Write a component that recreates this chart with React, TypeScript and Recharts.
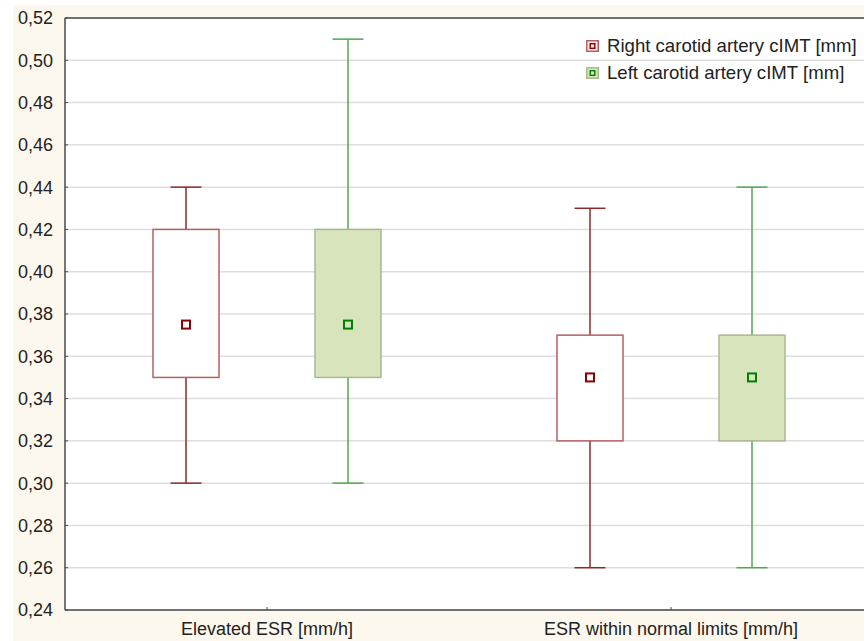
import {
  Bar,
  CartesianGrid,
  ComposedChart,
  ReferenceLine,
  XAxis,
  YAxis,
} from "recharts";

const categories = ["Elevated ESR [mm/h]", "ESR within normal limits [mm/h]"];

// right carotid artery cIMT [mm]
const rightMin = [0.3, 0.26];
const rightQ1 = [0.35, 0.32];
const rightMid = [0.375, 0.35];
const rightQ3 = [0.42, 0.37];
const rightMax = [0.44, 0.43];

// left carotid artery cIMT [mm]
const leftMin = [0.3, 0.26];
const leftQ1 = [0.35, 0.32];
const leftMid = [0.375, 0.35];
const leftQ3 = [0.42, 0.37];
const leftMax = [0.51, 0.44];

const yTicks = [
  0.24, 0.26, 0.28, 0.3, 0.32, 0.34, 0.36, 0.38, 0.4, 0.42, 0.44, 0.46, 0.48,
  0.5, 0.52,
];

const seriesNames = [
  "Right carotid artery cIMT [mm]",
  "Left carotid artery cIMT [mm]",
];

type Stats = { min: number; q1: number; mid: number; q3: number; max: number };

const data = categories.map((name, i) => ({
  name,
  right: {
    min: rightMin[i],
    q1: rightQ1[i],
    mid: rightMid[i],
    q3: rightQ3[i],
    max: rightMax[i],
  },
  left: {
    min: leftMin[i],
    q1: leftQ1[i],
    mid: leftMid[i],
    q3: leftQ3[i],
    max: leftMax[i],
  },
}));

const RED = {
  whisker: "#8e2a2a",
  boxStroke: "#b46060",
  boxFill: "#ffffff",
  iconFill: "#f7eaea",
  marker: "#8b0000",
};
const GREEN = {
  whisker: "#4fa84f",
  boxStroke: "#a9b98f",
  boxFill: "#d8e4bc",
  iconFill: "#d8e4bc",
  marker: "#008000",
};

const AXIS = "#4a4a4a";
const INK = "#222";
const FONT = "'Liberation Sans', Arial, sans-serif";

function makeBox(key: "right" | "left", c: typeof RED) {
  return (props: any) => {
    const { x, y, width, height, payload } = props;
    const s: Stats = payload[key];
    const top = Math.min(y, y + height);
    const h = Math.abs(height);
    // map a value into pixels using the bar's own [min, max] extent
    const py = (v: number) => top + ((s.max - v) / (s.max - s.min)) * h;
    const cx = x + width / 2;
    const cap = 15.5;
    return (
      <g>
        <line x1={cx} x2={cx} y1={py(s.max)} y2={py(s.q3)} stroke={c.whisker} strokeWidth={1.5} />
        <line x1={cx} x2={cx} y1={py(s.q1)} y2={py(s.min)} stroke={c.whisker} strokeWidth={1.5} />
        <line x1={cx - cap} x2={cx + cap} y1={py(s.max)} y2={py(s.max)} stroke={c.whisker} strokeWidth={1.5} />
        <line x1={cx - cap} x2={cx + cap} y1={py(s.min)} y2={py(s.min)} stroke={c.whisker} strokeWidth={1.5} />
        <rect
          x={x}
          y={py(s.q3)}
          width={width}
          height={py(s.q1) - py(s.q3)}
          fill={c.boxFill}
          stroke={c.boxStroke}
          strokeWidth={1.5}
        />
        <rect
          x={cx - 4}
          y={py(s.mid) - 4}
          width={8}
          height={8}
          fill="none"
          stroke={c.marker}
          strokeWidth={2}
        />
      </g>
    );
  };
}

function LegendIcon({ c }: { c: typeof RED }) {
  return (
    <svg width={13} height={12} style={{ display: "block" }}>
      <rect x={0.75} y={0.75} width={11.5} height={10.5} fill={c.iconFill} stroke={c.boxStroke} strokeWidth={1.5} />
      <rect x={4.2} y={3.7} width={4.6} height={4.6} fill="none" stroke={c.marker} strokeWidth={1.4} />
    </svg>
  );
}

export default function App() {
  return (
    <div
      style={{
        position: "absolute",
        left: 0,
        top: 0,
        width: 864,
        height: 641,
        overflow: "hidden",
        background: "#fff",
        fontFamily: FONT,
      }}
    >
      <div
        style={{
          position: "absolute",
          left: 13,
          top: 5,
          width: 900,
          height: 660,
          background: "#fdf8ee",
        }}
      />
      <div style={{ position: "absolute", left: 13, top: 5 }}>
        <ComposedChart
          width={860}
          height={636}
          data={data}
          margin={{ top: 13, right: 0, left: 0, bottom: 0 }}
          barSize={66}
          barGap={96}
        >
          <CartesianGrid
            vertical={false}
            stroke="#dedede"
            strokeWidth={1.5}
            fill="#ffffff"
          />
          <XAxis
            dataKey="name"
            height={31}
            interval={0}
            axisLine={{ stroke: AXIS, strokeWidth: 1.5 }}
            tickLine={{ stroke: AXIS }}
            tickSize={-3}
            tickMargin={15}
            tick={{ fill: INK, fontSize: 18 }}
          />
          <YAxis
            type="number"
            domain={[0.24, 0.52]}
            ticks={yTicks}
            interval={0}
            allowDataOverflow
            width={52}
            axisLine={{ stroke: AXIS, strokeWidth: 1.5 }}
            tickLine={{ stroke: AXIS }}
            tickSize={-3}
            tickMargin={15}
            tick={{ fill: INK, fontSize: 18 }}
            tickFormatter={(v) => Number(v).toFixed(2).replace(".", ",")}
          />
          <ReferenceLine y={0.52} stroke={AXIS} strokeWidth={1.5} />
          <Bar
            dataKey={(d: any) => [d.right.min, d.right.max]}
            shape={makeBox("right", RED)}
            activeBar={false}
            isAnimationActive={false}
          />
          <Bar
            dataKey={(d: any) => [d.left.min, d.left.max]}
            shape={makeBox("left", GREEN)}
            activeBar={false}
            isAnimationActive={false}
          />
        </ComposedChart>
      </div>
      {[RED, GREEN].map((c, i) => (
        <div
          key={seriesNames[i]}
          style={{
            position: "absolute",
            left: 586,
            top: 35 + i * 27,
            display: "flex",
            alignItems: "center",
            gap: 8,
            fontSize: 18.6,
            color: INK,
            whiteSpace: "nowrap",
          }}
        >
          <LegendIcon c={c} />
          <span>{seriesNames[i]}</span>
        </div>
      ))}
    </div>
  );
}
